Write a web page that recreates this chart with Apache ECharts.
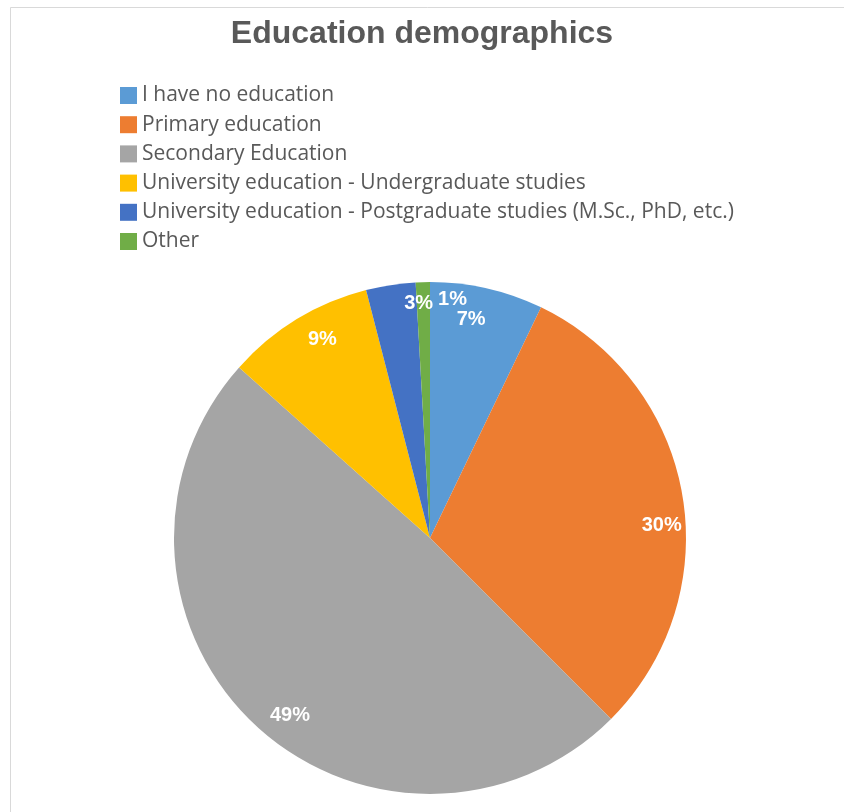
<!DOCTYPE html>
<html>
<head>
<meta charset="utf-8">
<script src="https://cdn.jsdelivr.net/npm/echarts@6/dist/echarts.min.js"></script>
<style>
html, body { margin: 0; padding: 0; background: #ffffff; }
#chart { width: 844px; height: 812px; }
</style>
</head>
<body>
<div id="chart"></div>
<script>
const titleText = 'Education demographics';
const categories = [
  'I have no education',
  'Primary education',
  'Secondary Education',
  'University education - Undergraduate studies',
  'University education - Postgraduate studies (M.Sc., PhD, etc.)',
  'Other'
];
const counts = [16, 68, 110, 21, 7, 2];
const colors = ['#5B9BD5', '#ED7D31', '#A5A5A5', '#FFC000', '#4472C4', '#70AD47'];
// small label nudges (Excel "best fit" placement)
const labelNudge = [[-10, 6], [5, 26], [18, 10], [12, -2], [24, -7], [29, -9]];

const pieData = categories.map((c, i) => ({ name: c, value: counts[i], itemStyle: { color: colors[i] } }));
const labelData = categories.map((c, i) => ({ name: c, value: counts[i] }));

const chart = echarts.init(document.getElementById('chart'), null, { renderer: 'canvas' });
chart.setOption({
  backgroundColor: '#ffffff',
  animation: false,
  title: {
    text: titleText,
    left: 'center',
    top: 18,
    padding: [0, 0, 0, 8],
    textStyle: { fontFamily: 'Liberation Sans', fontWeight: 'bold', fontSize: 32, color: '#595959' }
  },
  legend: {
    orient: 'vertical',
    left: 120,
    top: 85,
    padding: 0,
    icon: 'rect',
    itemWidth: 17,
    itemHeight: 17,
    itemGap: 8.2,
    data: categories,
    textStyle: { fontFamily: 'Open Sans', fontSize: 21, lineHeight: 21, color: '#595959', padding: [0, 0, 0, 0] }
  },
  graphic: [{
    type: 'rect',
    shape: { x: 10.5, y: 7.5, width: 900, height: 900 },
    style: { fill: 'none', stroke: '#d9d9d9', lineWidth: 1 },
    silent: true,
    z: -10
  }],
  series: [
    {
      type: 'pie',
      center: [430, 538],
      radius: [0, 256],
      startAngle: 90,
      clockwise: true,
      data: pieData,
      label: { show: false },
      labelLine: { show: false },
      itemStyle: { borderWidth: 0 },
      emphasis: { scale: false }
    },
    {
      type: 'pie',
      center: [430, 538],
      radius: [198, 256],
      startAngle: 90,
      clockwise: true,
      silent: true,
      legendHoverLink: false,
      avoidLabelOverlap: false,
      percentPrecision: 2,
      data: labelData,
      itemStyle: { color: 'rgba(0,0,0,0)', borderWidth: 0 },
      label: {
        show: true,
        position: 'inside',
        formatter: p => Math.round(p.percent) + '%',
        fontFamily: 'Liberation Sans',
        fontWeight: 'bold',
        fontSize: 20,
        color: '#ffffff'
      },
      labelLine: { show: false },
      labelLayout: function (params) {
        if (params.seriesIndex !== 1) return {};
        const n = labelNudge[params.dataIndex] || [0, 0];
        return { dx: n[0], dy: n[1] };
      }
    }
  ]
});
</script>
</body>
</html>
